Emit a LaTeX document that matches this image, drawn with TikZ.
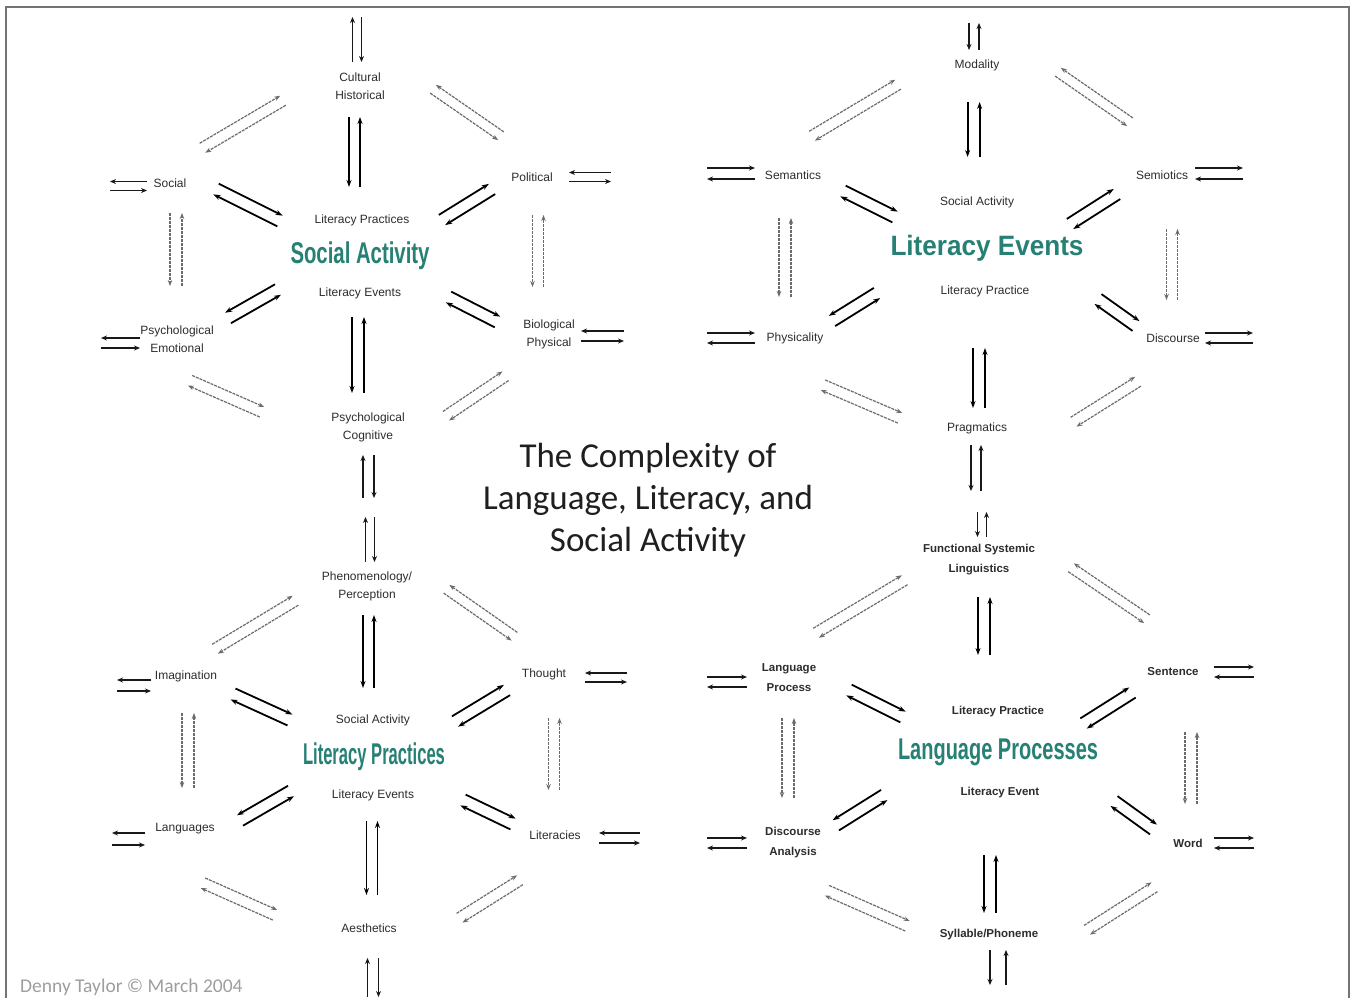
\documentclass[tikz,border=0pt]{standalone}
\usepackage{fontspec}
\usepackage{graphicx}
\usetikzlibrary{calc,arrows.meta}
\newfontfamily\arialf{Liberation Sans}
\newfontfamily\calib{Carlito}
\definecolor{teal1}{RGB}{38,128,116}
\definecolor{ink}{RGB}{45,45,45}

% two parallel arrows running in opposite directions between two points
\newcommand\dblgen[6]{%
  \coordinate (dA) at ($#2$);
  \coordinate (dB) at ($#3$);
  \draw[#1] ($(dA)!#4!#5:(dB)$) -- ($(dB)!#4!#6:(dA)$);
  \draw[#1] ($(dB)!#4!#5:(dA)$) -- ($(dA)!#4!#6:(dB)$);
}
% each arrow on its own left / on its own right
\newcommand\dblL[4]{\dblgen{#1}{#2}{#3}{#4}{90}{-90}}
\newcommand\dblR[4]{\dblgen{#1}{#2}{#3}{#4}{-90}{90}}

\tikzset{
  lbl/.style={font=\arialf\fontsize{12}{18}\selectfont, text=ink, align=center, inner sep=0pt},
  lblb/.style={lbl, font=\arialf\bfseries\fontsize{11.5}{20}\selectfont},
  big/.style={font=\arialf\bfseries\fontsize{30}{30}\selectfont, text=teal1, inner sep=0pt},
  bigs/.style={big, font=\arialf\bfseries\fontsize{28}{28}\selectfont},
  ttl/.style={font=\calib\fontsize{35}{42}\selectfont, text=black!88, align=center, inner sep=0pt},
  foot/.style={font=\calib\fontsize{19.5}{20}\selectfont, text=black!38, inner sep=0pt},
  hubar/.style={draw=black, line width=1.8pt, -{Stealth[length=7pt,width=5pt]}},
  ringar/.style={draw=black!58, line width=1.2pt, dash pattern=on 3pt off 1pt, -{Stealth[length=6pt,width=4.5pt]}},
  stubar/.style={draw=black!90, line width=1.6pt, -{Stealth[length=6pt,width=5pt]}},
  frame/.style={draw=black!55, line width=2.5pt}
}

\begin{document}
\begin{tikzpicture}[x=1pt,y=-1pt]
\useasboundingbox (0,0) rectangle (1352,998);
\fill[white] (0,0) rectangle (1352,998);
\draw[frame] (6,998) -- (6,7) -- (1349,7) -- (1349,998);

% ---------------- Social Activity ----------------
\node[lbl] (cul) at (360,86) {Cultural\\Historical};
\node[lbl] (soc) at (170,183) {Social};
\node[lbl] (pol) at (532,177) {Political};
\node[lbl] (emo) at (177,339) {Psychological\\Emotional};
\node[lbl] (bio) at (549,334) {Biological\\Physical};
\node[lbl] (cog) at (368,427) {Psychological\\Cognitive};
\node[big] (h1) at (360,256) {\resizebox{139pt}{\height}{Social Activity}};
\node[lbl] (h1t) at (362,220) {Literacy Practices};
\node[lbl] (h1b) at (360,293) {Literacy Events};

% ---------------- Literacy Events ----------------
\node[lbl] (mod) at (977,65) {Modality};
\node[lbl] (sem) at (793,175) {Semantics};
\node[lbl] (semi) at (1162,175) {Semiotics};
\node[lbl] (phys) at (795,338) {Physicality};
\node[lbl] (disc) at (1173,338) {Discourse};
\node[lbl] (prag) at (977,428) {Pragmatics};
\node[bigs] (h2) at (987,248) {\resizebox{193pt}{\height}{Literacy Events}};
\node[lbl] (h2t) at (977,202) {Social Activity};
\node[lbl] (h2b) at (985,291) {Literacy Practice};

% ---------------- Literacy Practices ----------------
\node[lbl] (phen) at (367,586) {Phenomenology/\\Perception};
\node[lbl] (imag) at (186,676) {Imagination};
\node[lbl] (thou) at (544,674) {Thought};
\node[lbl] (lang) at (185,829) {Languages};
\node[lbl] (lit) at (555,835) {Literacies};
\node[lbl] (aes) at (369,928) {Aesthetics};
\node[big] (h3) at (374,757) {\resizebox{142pt}{\height}{Literacy Practices}};
\node[lbl] (h3t) at (373,720) {Social Activity};
\node[lbl] (h3b) at (373,795) {Literacy Events};

% ---------------- Language Processes ----------------
\node[lblb] (fsl) at (979,560) {Functional Systemic\\Linguistics};
\node[lblb] (lp) at (789,678) {Language\\Process};
\node[lblb] (sent) at (1173,672) {Sentence};
\node[lblb] (dan) at (793,843) {Discourse\\Analysis};
\node[lblb] (word) at (1188,843) {Word};
\node[lblb] (syl) at (989,935) {Syllable/Phoneme};
\node[big] (h4) at (998,752) {\resizebox{200pt}{\height}{Language Processes}};
\node[lblb] (h4t) at (998,712) {Literacy Practice};
\node[lblb] (h4b) at (1000,793) {Literacy Event};

% title and credit
\node[ttl] (title) at (648,500) {The Complexity of\\Language, Literacy, and\\Social Activity};
\node[foot, anchor=west] (credit) at (20,987) {Denny Taylor © March 2004};

% ---------------- connectors: Social Activity ----------------
\dblL{stubar}{(cul)+(-3,-24)}{(cul)+(-3,-69)}{4.5pt}
\dblR{hubar}{(cul)+(-5.5,31)}{(h1)+(-5.5,-69)}{5.5pt}
\dblL{ringar}{(soc)+(32.5,-35)}{(cul)+(-77,14.5)}{5.5pt}
\dblR{ringar}{(cul)+(73,3)}{(pol)+(-31,-41)}{5pt}
\dblR{stubar}{(soc)+(-23,3)}{(soc)+(-60,3)}{4.5pt}
\dblL{hubar}{(soc)+(46,6)}{(h1)+(-80,-35)}{6pt}
\dblR{ringar}{(soc)+(6,30)}{(emo)+(-1,-53)}{6pt}
\dblL{hubar}{(pol)+(-40,12)}{(h1)+(82,-36)}{6pt}
\dblR{stubar}{(pol)+(37,0)}{(pol)+(79,0)}{4.5pt}
\dblR{ringar}{(pol)+(6,38)}{(bio)+(-11,-47)}{5.5pt}
\dblR{hubar}{(emo)+(51,-21)}{(h1)+(-82,33.5)}{6pt}
\dblR{stubar}{(emo)+(-37,4)}{(emo)+(-76,4)}{5pt}
\dblL{hubar}{(bio)+(-51.5,-12)}{(h1)+(88.5,41)}{6pt}
\dblR{stubar}{(bio)+(32,2)}{(bio)+(75,2)}{5pt}
\dblL{ringar}{(emo)+(13,41.5)}{(cog)+(-106,-15)}{5.5pt}
\dblL{ringar}{(bio)+(-43.5,42)}{(cog)+(78,-11)}{5.5pt}
\dblR{hubar}{(cog)+(-10,-34)}{(h1)+(-2,61)}{6pt}
\dblL{stubar}{(cog)+(0.5,28)}{(cog)+(0.5,71)}{5.5pt}

% ---------------- connectors: Literacy Events ----------------
\dblR{stubar}{(mod)+(-3,-15)}{(mod)+(-3,-42)}{5pt}
\dblR{hubar}{(mod)+(-3.4,37)}{(h2)+(-13.4,-91)}{6pt}
\dblL{ringar}{(sem)+(19,-39)}{(mod)+(-79,19.5)}{5.5pt}
\dblR{ringar}{(mod)+(81,7)}{(semi)+(-32,-53)}{5pt}
\dblL{stubar}{(sem)+(-38,-1.5)}{(sem)+(-86,-1.5)}{5.5pt}
\dblL{stubar}{(semi)+(33,-1.5)}{(semi)+(81,-1.5)}{5.5pt}
\dblL{hubar}{(sem)+(50,16)}{(h2)+(-92,-31)}{6pt}
\dblL{hubar}{(semi)+(-45,19)}{(h2)+(83,-24)}{6pt}
\dblR{ringar}{(sem)+(-8,43)}{(phys)+(-10,-41)}{6pt}
\dblR{ringar}{(semi)+(10,54)}{(disc)+(-1,-38)}{5.5pt}
\dblR{hubar}{(phys)+(37,-17)}{(h2)+(-110,45)}{6pt}
\dblL{stubar}{(phys)+(-40,0)}{(phys)+(-88,0)}{5pt}
\dblL{hubar}{(disc)+(-37,-12)}{(h2)+(111,51)}{6pt}
\dblL{stubar}{(disc)+(32,0)}{(disc)+(80,0)}{5pt}
\dblL{ringar}{(phys)+(28,47)}{(prag)+(-77,-10)}{5.5pt}
\dblL{ringar}{(disc)+(-35,43.5)}{(prag)+(96.5,-6)}{5.5pt}
\dblR{hubar}{(prag)+(2,-20)}{(h2)+(-8,100)}{6pt}
\dblR{stubar}{(prag)+(-1,17)}{(prag)+(-1,63)}{5pt}

% ---------------- connectors: Literacy Practices ----------------
\dblL{stubar}{(phen)+(3,-24)}{(phen)+(3,-69)}{4.5pt}
\dblR{hubar}{(phen)+(1.5,29)}{(h3)+(-5.5,-69)}{5.5pt}
\dblL{ringar}{(imag)+(29,-27)}{(phen)+(-71.5,14.5)}{5.5pt}
\dblR{ringar}{(phen)+(79.5,3)}{(thou)+(-29.5,-37.5)}{5pt}
\dblR{stubar}{(imag)+(-35,9.5)}{(imag)+(-69,9.5)}{5.5pt}
\dblR{stubar}{(thou)+(41,3.5)}{(thou)+(83,3.5)}{4.5pt}
\dblL{hubar}{(imag)+(47,18)}{(h3)+(-84,-37)}{6pt}
\dblL{hubar}{(thou)+(-37,16)}{(h3)+(81,-35.5)}{6pt}
\dblR{ringar}{(imag)+(2,37)}{(lang)+(3,-41)}{6pt}
\dblR{ringar}{(thou)+(10,44)}{(lit)+(-1,-45)}{5.5pt}
\dblR{hubar}{(lang)+(55,-8.5)}{(h3)+(-83,34)}{6pt}
\dblR{stubar}{(lang)+(-40,10)}{(lang)+(-73,10)}{6pt}
\dblL{hubar}{(lit)+(-42,-11)}{(h3)+(89,43)}{6pt}
\dblR{stubar}{(lit)+(44,3)}{(lit)+(85,3)}{5pt}
\dblL{ringar}{(lang)+(18,54)}{(aes)+(-94,-13)}{5.5pt}
\dblL{ringar}{(lit)+(-35,45)}{(aes)+(90.5,-10)}{5.5pt}
\dblR{hubar}{(aes)+(3,-33)}{(h3)+(-2,64)}{5.5pt}
\dblL{stubar}{(aes)+(4,30)}{(aes)+(4,69)}{5.5pt}

% ---------------- connectors: Language Processes ----------------
\dblR{stubar}{(fsl)+(3,-23)}{(fsl)+(3,-48)}{4.5pt}
\dblR{hubar}{(fsl)+(5,37)}{(h4)+(-14,-97)}{6pt}
\dblL{ringar}{(lp)+(27,-45)}{(fsl)+(-74.3,20)}{5.5pt}
\dblR{ringar}{(fsl)+(92,7.5)}{(sent)+(-26,-53)}{5pt}
\dblL{stubar}{(lp)+(-42,4)}{(lp)+(-82,4)}{5pt}
\dblL{stubar}{(sent)+(41,0)}{(sent)+(81,0)}{5pt}
\dblL{hubar}{(lp)+(60,12)}{(h4)+(-95,-35)}{6pt}
\dblL{hubar}{(sent)+(-40.5,20.5)}{(h4)+(85.5,-28.5)}{6pt}
\dblR{ringar}{(lp)+(-1,40)}{(dan)+(-5,-45)}{6pt}
\dblR{ringar}{(sent)+(18,60)}{(word)+(3,-39)}{6pt}
\dblR{hubar}{(dan)+(42.8,-17.7)}{(h4)+(-113.8,43)}{6pt}
\dblL{stubar}{(dan)+(-46,0)}{(dan)+(-86,0)}{5pt}
\dblL{hubar}{(word)+(-34.5,-13.5)}{(h4)+(116,49)}{6pt}
\dblL{stubar}{(word)+(26,0)}{(word)+(66,0)}{5pt}
\dblL{ringar}{(dan)+(34,47.5)}{(syl)+(-81.5,-9)}{5.5pt}
\dblL{ringar}{(word)+(-33.5,44)}{(syl)+(98,-5)}{5.5pt}
\dblR{hubar}{(syl)+(1,-22)}{(h4)+(-8,103)}{6pt}
\dblR{stubar}{(syl)+(9,15)}{(syl)+(9,50)}{8pt}
\end{tikzpicture}
\end{document}
